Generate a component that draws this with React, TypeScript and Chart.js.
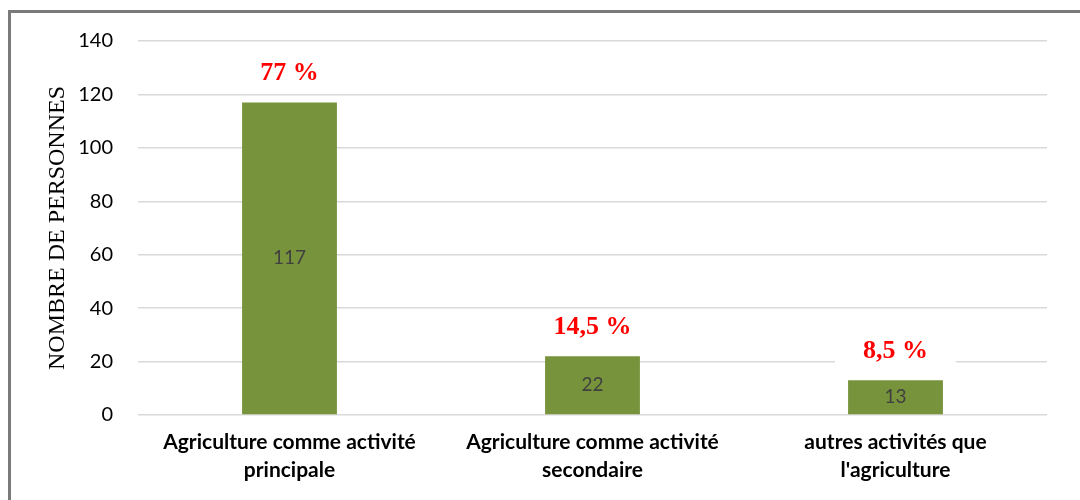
import React, { useEffect, useRef } from "react";
import { Chart, registerables } from "chart.js";
Chart.register(...registerables);

const categories: string[][] = [
  ["Agriculture comme activité", "principale"],
  ["Agriculture comme activité", "secondaire"],
  ["autres activités que", "l'agriculture"],
];
const values: number[] = [117, 22, 13];
const percentLabels: string[] = ["77 %", "14,5 %", "8,5 %"];
const yMin = 0;
const yMax = 140;
const yStep = 20;
const yTitle = "NOMBRE DE PERSONNES";

const labelPlugin = {
  id: "barLabels",
  afterDatasetsDraw(chart: any) {
    const ctx = chart.ctx;
    const meta = chart.getDatasetMeta(0);
    ctx.save();
    meta.data.forEach((bar: any, i: number) => {
      const { x, y, base } = bar.getProps(["x", "y", "base"], true);
      ctx.font = '19px Lato';
      ctx.fillStyle = "#404040";
      ctx.textAlign = "center";
      ctx.textBaseline = "middle";
      ctx.fillText(String(values[i]), x, (y + base) / 2);

      ctx.font = 'bold 26px "Liberation Serif"';
      const txt = percentLabels[i];
      const w = ctx.measureText(txt).width;
      const cy = y - 29;
      ctx.fillStyle = "#ffffff";
      ctx.fillRect(x - w / 2 - 28, cy - 16, w + 56, 32);
      ctx.fillStyle = "#ff0000";
      ctx.fillText(txt, x, cy);
    });
    ctx.restore();
  },
};

export default function App() {
  const ref = useRef<HTMLCanvasElement | null>(null);
  useEffect(() => {
    document.body.style.margin = "0";
    const chart = new Chart(ref.current as HTMLCanvasElement, {
      type: "bar",
      data: {
        labels: categories,
        datasets: [
          {
            data: values,
            backgroundColor: "#77933C",
            barPercentage: 0.313,
            categoryPercentage: 1,
          },
        ],
      },
      options: {
        animation: false,
        responsive: false,
        devicePixelRatio: 1,
        layout: { padding: { top: 28, right: 33, left: 0, bottom: 0 } },
        plugins: { legend: { display: false }, tooltip: { enabled: false } },
        scales: {
          x: {
            grid: { display: false, drawTicks: false },
            border: { display: false },
            ticks: {
              color: "#000000",
              font: { family: "Lato", size: 21, weight: "bold", lineHeight: 1.3 },
              padding: 14,
              maxRotation: 0,
              autoSkip: false,
            },
            afterFit: (s: any) => {
              s.height = 85;
            },
          },
          y: {
            min: yMin,
            max: yMax,
            grid: {
              color: "#d9d9d9",
              lineWidth: 1.5,
              drawTicks: true,
              tickLength: 21,
              tickColor: "rgba(0,0,0,0)",
            },
            border: { display: false },
            ticks: {
              stepSize: yStep,
              color: "#000000",
              font: { family: "Lato", size: 20 },
              padding: 4,
            },
            title: {
              display: true,
              text: yTitle,
              color: "#000000",
              font: { family: "Liberation Serif", size: 24, lineHeight: 1.2 },
              padding: { top: 32, bottom: 0 },
            },
            afterFit: (s: any) => {
              s.width = 127;
            },
          },
        },
      },
      plugins: [labelPlugin],
    } as any);
    return () => chart.destroy();
  }, []);
  return (
    <div style={{ width: 1080, height: 500, overflow: "hidden", position: "relative", background: "#fff" }}>
      <div
        style={{
          position: "absolute",
          left: 8,
          top: 10,
          width: 1100,
          height: 520,
          border: "3px solid #7a7a7a",
          boxSizing: "border-box",
        }}
      >
        <canvas ref={ref} width={1069} height={487} style={{ display: "block" }} />
      </div>
    </div>
  );
}
